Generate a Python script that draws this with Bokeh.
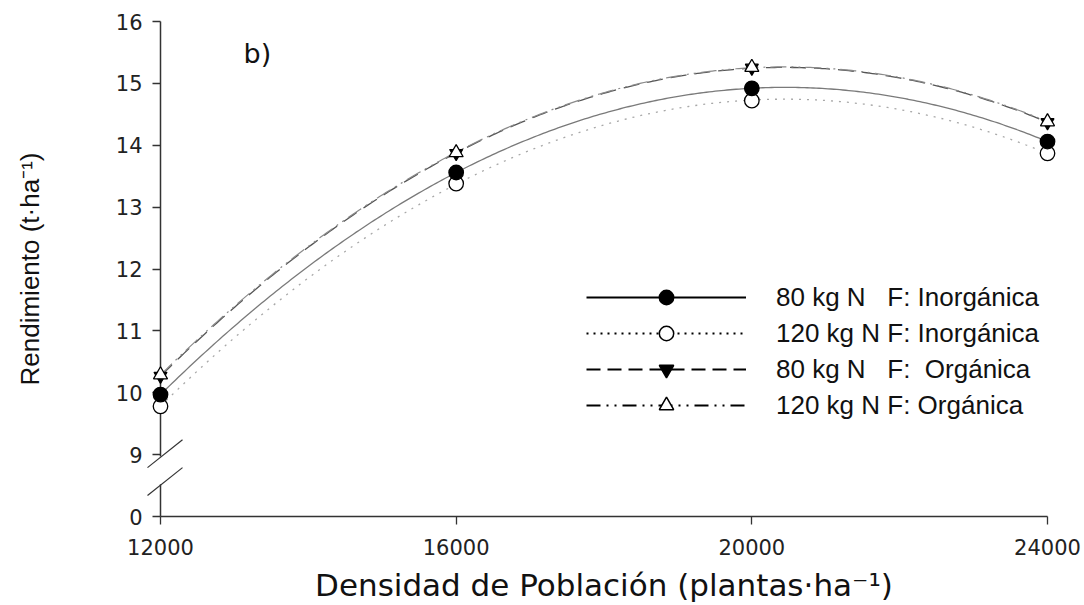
import numpy as np
from bokeh.plotting import figure
from bokeh.models import Range1d, FixedTicker, Legend, LegendItem, Label
from bokeh.embed import file_html
from bokeh.resources import INLINE

# ---- data ----
density = [12000, 16000, 20000, 24000]
y_80_inorg = [9.97, 13.56, 14.92, 14.06]
y_120_inorg = [9.78, 13.38, 14.72, 13.87]
y_80_org = [10.27, 13.87, 15.25, 14.37]
y_120_org = [10.29, 13.88, 15.26, 14.38]

series_labels = [
    "80 kg N\u00a0\u00a0\u00a0F: Inorgánica",
    "120 kg N F: Inorgánica",
    "80 kg N\u00a0\u00a0\u00a0F:\u00a0\u00a0Orgánica",
    "120 kg N F: Orgánica",
]

x_tick_values = [12000, 16000, 20000, 24000]
y_tick_values = [8, 9, 10, 11, 12, 13, 14, 15, 16]
y_tick_labels = ["0", "9", "10", "11", "12", "13", "14", "15", "16"]

# axis-break decoration (in y data units; the "0" tick sits at 8)
break_low, break_high = 8.52, 8.97

# ---- quadratic regression curves fitted to each series ----
xs_k = np.array(density) / 1000.0
x_fine_k = np.linspace(xs_k.min(), xs_k.max(), 300)
x_fine = x_fine_k * 1000.0


def fit(y):
    c = np.polyfit(xs_k, np.array(y), 2)
    return np.polyval(c, x_fine_k)


p = figure(
    width=1084, height=605,
    x_range=Range1d(12000, 24000), y_range=Range1d(8, 16),
    output_backend="svg", toolbar_location=None,
    min_border_left=160, min_border_right=37, min_border_top=21, min_border_bottom=89,
)
p.outline_line_color = None
p.grid.visible = False
p.background_fill_color = "white"

# fitted lines
p.line(x_fine, fit(y_80_inorg), line_color="#7a7a7a", line_width=1.3)
p.line(x_fine, fit(y_120_inorg), line_color="#a8a8a8", line_width=1.3, line_dash="2 6")
p.line(x_fine, fit(y_80_org), line_color="#555555", line_width=1.3, line_dash="16 8")
p.line(x_fine, fit(y_120_org), line_color="#8a8a8a", line_width=1.2, line_dash="16 5 2 5 2 5")

# y axis line with break
p.segment(x0=[12000, 12000], y0=[16, break_low], x1=[12000, 12000], y1=[break_high, 8],
          line_color="#333333", line_width=1.5, level="overlay")
p.segment(x0=[11824, 11824], y0=[8.79, 8.34], x1=[12298, 12298], y1=[9.24, 8.79],
          line_color="#333333", line_width=1.2, level="overlay")

# markers
p.scatter(density, y_120_inorg, marker="circle", size=14.5, fill_color="white",
          line_color="black", line_width=1.3, level="overlay")
p.scatter(density, y_80_inorg, marker="circle", size=14.5, fill_color="black",
          line_color="black", line_width=1.3, level="overlay")
p.scatter(density, y_80_org, marker="inverted_triangle", size=13, fill_color="black",
          line_color="black", line_width=1.2, level="overlay")
p.scatter(density, y_120_org, marker="triangle", size=14, fill_color="white",
          line_color="black", line_width=1.3, level="overlay")

# axes
xa = p.xaxis[0]
xa.ticker = FixedTicker(ticks=x_tick_values)
xa.axis_line_color = "#333333"
xa.axis_line_width = 1.5
xa.major_tick_line_color = "#333333"
xa.major_tick_line_width = 1.3
xa.major_tick_out = 8
xa.major_tick_in = 0
xa.minor_tick_line_color = None
xa.major_label_text_font = "DejaVu Sans"
xa.major_label_text_font_size = "21px"
xa.major_label_text_color = "#222222"
xa.major_label_standoff = 14
xa.axis_label = "Densidad de Población (plantas·ha⁻¹)"
xa.axis_label_text_font = "DejaVu Sans"
xa.axis_label_text_font_size = "31px"
xa.axis_label_text_font_style = "normal"
xa.axis_label_text_color = "#111111"
xa.axis_label_standoff = 9

ya = p.yaxis[0]
ya.ticker = FixedTicker(ticks=y_tick_values)
ya.major_label_overrides = dict(zip(y_tick_values, y_tick_labels))
ya.axis_line_color = None
ya.major_tick_line_color = "#333333"
ya.major_tick_line_width = 1.3
ya.major_tick_out = 8
ya.major_tick_in = 0
ya.minor_tick_line_color = None
ya.major_label_text_font = "DejaVu Sans"
ya.major_label_text_font_size = "21px"
ya.major_label_text_color = "#222222"
ya.major_label_standoff = 10
ya.axis_label = "Rendimiento (t·ha⁻¹)"
ya.axis_label_text_font = "Liberation Sans"
ya.axis_label_text_font_size = "26px"
ya.axis_label_text_font_style = "normal"
ya.axis_label_text_color = "#111111"
ya.axis_label_standoff = 68

# panel label
p.add_layout(Label(x=83, y=463, x_units="screen", y_units="screen", text="b)",
                   text_font="DejaVu Sans", text_font_size="27px", text_baseline="middle",
                   text_color="#111111"))

# legend (legend-only glyphs; single NaN point so nothing shows in the plot)
legend_styles = [
    dict(dash="solid", marker="circle", fill="black"),
    dict(dash="2 5", marker="circle", fill="white"),
    dict(dash="14 7", marker="inverted_triangle", fill="black"),
    dict(dash="14 6 2 6 2 6", marker="triangle", fill="white"),
]
items = []
for lab, st in zip(series_labels, legend_styles):
    lr = p.line(x=[np.nan], y=[np.nan], line_color="black", line_width=2, line_dash=st["dash"])
    mr = p.scatter(x=[np.nan], y=[np.nan], marker=st["marker"], fill_color=st["fill"],
                   line_color="black", line_width=1.5)
    items.append(LegendItem(label=lab, renderers=[lr, mr]))

legend = Legend(
    items=items, location=(426, 93),
    glyph_width=160, glyph_height=36, spacing=0, label_standoff=30,
    padding=0, margin=0, border_line_color=None, background_fill_alpha=0,
    label_text_font="Liberation Sans", label_text_font_size="26px",
    label_text_color="#111111",
)
p.add_layout(legend)

open("out.html", "w").write(file_html(p, INLINE))
